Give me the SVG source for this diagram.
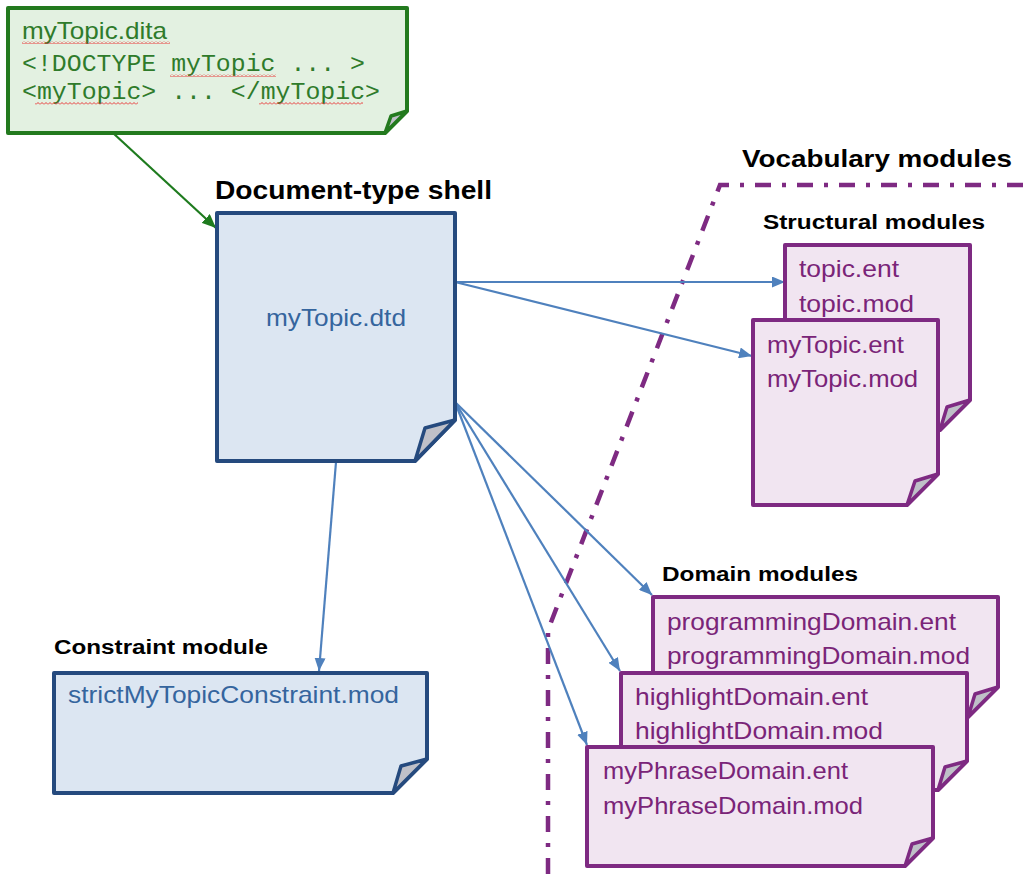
<svg xmlns="http://www.w3.org/2000/svg" width="1023" height="888" viewBox="0 0 1023 888">
<style>
  .lbl{font-family:"Liberation Sans",Arial,sans-serif;font-weight:bold;fill:#000}
  .t{font-family:"Liberation Sans",Arial,sans-serif;font-size:24px}
  .blue .box{fill:#dce6f2;stroke:#254a7e;stroke-width:4;stroke-linejoin:round}
  .blue text{fill:#35659e}
  .purple .box{fill:#f1e5f1;stroke:#7e2a82;stroke-width:4;stroke-linejoin:round}
  .purple text{fill:#7a2478}
  .green .box{fill:#e3f1e1;stroke:#237a1e;stroke-width:4;stroke-linejoin:round}
  .green text{fill:#2f7b2b}
  .fold{fill:#bfc0c8;stroke-width:3.5;stroke-linejoin:round}
  .blue .fold{stroke:#254a7e}
  .purple .fold{stroke:#7e2a82}
  .green .fold{stroke:#237a1e}
  .mono{font-family:"Liberation Mono","Courier New",monospace;font-size:23px}
  .conn{fill:none;stroke:#4f81bd;stroke-width:2.2}
  .sq{fill:url(#squiggle)}
</style>
<defs>
  <marker id="ab" viewBox="0 0 13 11" refX="13" refY="5.5" markerWidth="13" markerHeight="11" markerUnits="userSpaceOnUse" orient="auto">
    <path d="M0 0 L13 5.5 L0 11 Z" fill="#4f81bd"/>
  </marker>
  <marker id="ag" viewBox="0 0 14 12" refX="14" refY="6" markerWidth="14" markerHeight="12" markerUnits="userSpaceOnUse" orient="auto">
    <path d="M0 0 L14 6 L0 12 Z" fill="#1e7b1e"/>
  </marker>
  <pattern id="squiggle" patternUnits="userSpaceOnUse" width="4" height="3">
    <path d="M0 2.5 L2 0.5 L4 2.5" fill="none" stroke="#e8393a" stroke-width="1"/>
  </pattern>
</defs>
<rect width="1023" height="888" fill="#fff"/>

<!-- dash-dot boundary -->
<g id="boundary">
  <polyline points="1023,185 720,185 548,630 548,880" fill="none" stroke="#7e2a82" stroke-width="4.5" stroke-dasharray="16 11 4 11"/>
</g>

<!-- labels -->
<g id="labels">
  <text class="lbl" x="215" y="199" font-size="25" textLength="277" lengthAdjust="spacingAndGlyphs">Document-type shell</text>
  <text class="lbl" x="742" y="167" font-size="24" textLength="270" lengthAdjust="spacingAndGlyphs">Vocabulary modules</text>
  <text class="lbl" x="763" y="229" font-size="20" textLength="222" lengthAdjust="spacingAndGlyphs">Structural modules</text>
  <text class="lbl" x="662" y="581" font-size="20" textLength="196" lengthAdjust="spacingAndGlyphs">Domain modules</text>
  <text class="lbl" x="54" y="654" font-size="20" textLength="214" lengthAdjust="spacingAndGlyphs">Constraint module</text>
</g>

<!-- connectors -->
<g id="connectors">
  <line x1="113" y1="133" x2="216" y2="228" stroke="#1e7b1e" stroke-width="2.2" marker-end="url(#ag)"/>
  <line class="conn" x1="455" y1="282" x2="785" y2="282" marker-end="url(#ab)"/>
  <line class="conn" x1="455" y1="282" x2="752" y2="356" marker-end="url(#ab)"/>
  <line class="conn" x1="455" y1="402" x2="652" y2="595" marker-end="url(#ab)"/>
  <line class="conn" x1="455" y1="402" x2="620" y2="671" marker-end="url(#ab)"/>
  <line class="conn" x1="455" y1="402" x2="587" y2="745" marker-end="url(#ab)"/>
  <line class="conn" x1="336" y1="462" x2="319" y2="671" marker-end="url(#ab)"/>
</g>

<!-- source note -->
<g id="node-dita" class="green">
  <path class="box" d="M8 8 H407 V111 L385 133 H8 Z"/>
  <path class="fold" d="M385 133 L391 116 L407 111 Z"/>
  <text class="t" x="22" y="39" textLength="145" lengthAdjust="spacingAndGlyphs">myTopic.dita</text>
  <text class="mono" x="22" y="71" textLength="343" lengthAdjust="spacingAndGlyphs">&lt;!DOCTYPE myTopic ... &gt;</text>
  <text class="mono" x="22" y="99" textLength="358" lengthAdjust="spacingAndGlyphs">&lt;myTopic&gt; ... &lt;/myTopic&gt;</text>
  <rect class="sq" x="22" y="41" width="148" height="3"/>
  <rect class="sq" x="170" y="74" width="106" height="3"/>
  <rect class="sq" x="35" y="102" width="103" height="3"/>
  <rect class="sq" x="259" y="102" width="104" height="3"/>
</g>

<!-- document-type shell -->
<g id="node-dtd" class="blue">
  <path class="box" d="M217 213 H455 V420 L415 461 H217 Z"/>
  <path class="fold" d="M415 461 L425 428 L455 420 Z"/>
  <text class="t" x="266" y="326" textLength="140" lengthAdjust="spacingAndGlyphs">myTopic.dtd</text>
</g>

<!-- constraint module -->
<g id="node-constraint" class="blue">
  <path class="box" d="M54 673 H427 V759 L393 793 H54 Z"/>
  <path class="fold" d="M393 793 L401 766 L427 759 Z"/>
  <text class="t" x="68" y="703" textLength="331" lengthAdjust="spacingAndGlyphs">strictMyTopicConstraint.mod</text>
</g>

<!-- structural modules -->
<g id="node-topic" class="purple">
  <path class="box" d="M785 245 H970 V400 L940 430 H785 Z"/>
  <path class="fold" d="M940 430 L947 407 L970 400 Z"/>
  <text class="t" x="799" y="277" textLength="100" lengthAdjust="spacingAndGlyphs">topic.ent</text>
  <text class="t" x="799" y="312" textLength="115" lengthAdjust="spacingAndGlyphs">topic.mod</text>
</g>
<g id="node-mytopic" class="purple">
  <path class="box" d="M753 320 H938 V474 L907 505 H753 Z"/>
  <path class="fold" d="M907 505 L915 481 L938 474 Z"/>
  <text class="t" x="767" y="353" textLength="137" lengthAdjust="spacingAndGlyphs">myTopic.ent</text>
  <text class="t" x="767" y="387" textLength="151" lengthAdjust="spacingAndGlyphs">myTopic.mod</text>
</g>

<!-- domain modules -->
<g id="node-programming" class="purple">
  <path class="box" d="M653 597 H998 V687 L968 717 H653 Z"/>
  <path class="fold" d="M968 717 L975 694 L998 687 Z"/>
  <text class="t" x="667" y="630" textLength="289" lengthAdjust="spacingAndGlyphs">programmingDomain.ent</text>
  <text class="t" x="667" y="664" textLength="303" lengthAdjust="spacingAndGlyphs">programmingDomain.mod</text>
</g>
<g id="node-highlight" class="purple">
  <path class="box" d="M621 673 H967 V761 L938 790 H621 Z"/>
  <path class="fold" d="M938 790 L945 767 L967 761 Z"/>
  <text class="t" x="635" y="705" textLength="233" lengthAdjust="spacingAndGlyphs">highlightDomain.ent</text>
  <text class="t" x="635" y="739" textLength="248" lengthAdjust="spacingAndGlyphs">highlightDomain.mod</text>
</g>
<g id="node-myphrase" class="purple">
  <path class="box" d="M587 747 H933 V838 L905 866 H587 Z"/>
  <path class="fold" d="M905 866 L912 844 L933 838 Z"/>
  <text class="t" x="603" y="779" textLength="245" lengthAdjust="spacingAndGlyphs">myPhraseDomain.ent</text>
  <text class="t" x="603" y="814" textLength="260" lengthAdjust="spacingAndGlyphs">myPhraseDomain.mod</text>
</g>
</svg>
